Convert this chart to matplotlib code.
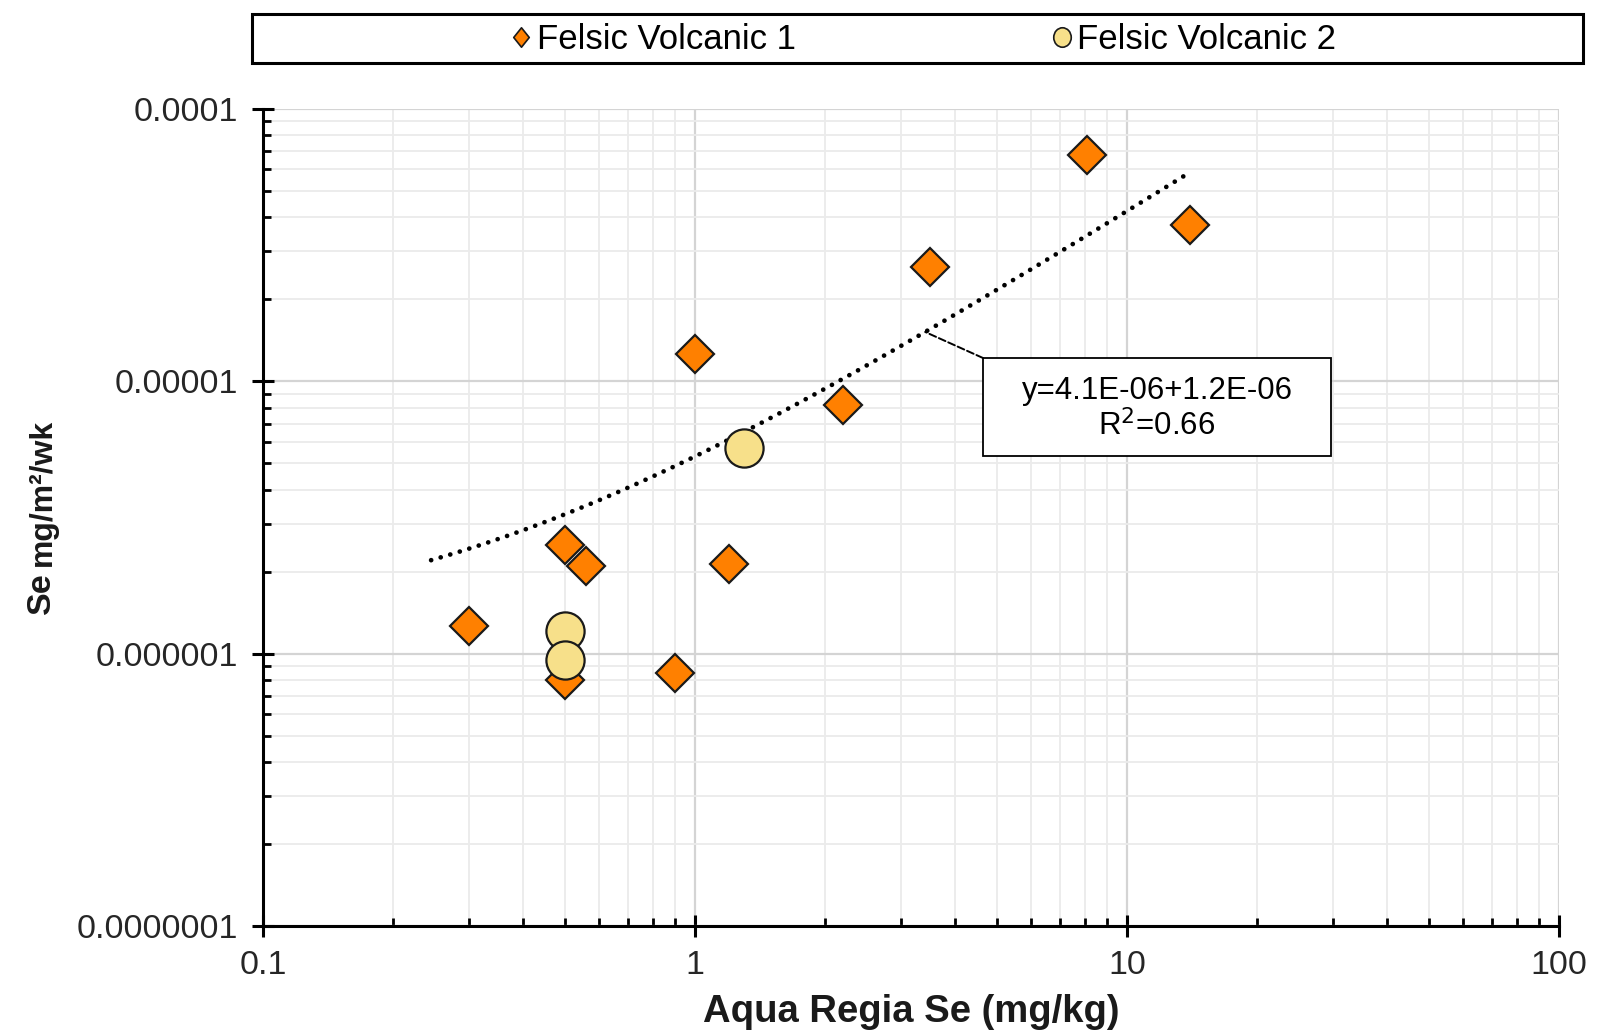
import matplotlib
matplotlib.use("Agg")
import matplotlib.pyplot as plt
import numpy as np
from matplotlib.path import Path
from matplotlib.lines import Line2D
from matplotlib.patches import Rectangle
from matplotlib.ticker import FixedLocator, FixedFormatter, LogLocator, NullFormatter

plt.rcParams['font.family'] = ['Liberation Sans', 'DejaVu Sans']

# ---------------- data ----------------
fv1_x = [0.3, 0.5, 0.56, 0.5, 0.9, 1.0, 1.2, 2.2, 3.5, 8.1, 14.0]
fv1_y = [1.26e-6, 2.5e-6, 2.1e-6, 8.0e-7, 8.5e-7, 1.26e-5, 2.14e-6, 8.2e-6, 2.64e-5, 6.8e-5, 3.74e-5]

fv2_x = [0.5, 0.5, 1.3]
fv2_y = [1.21e-6, 9.5e-7, 5.7e-6]

series_names = ["Felsic Volcanic 1", "Felsic Volcanic 2"]

trend_slope = 4.1e-6
trend_intercept = 1.2e-6
trend_x_range = [0.245, 14.0]
trend_label_x = 3.41
trend_text = ["y=4.1E-06+1.2E-06", "R$^2$=0.66"]

x_ticks = [0.1, 1, 10, 100]
x_tick_labels = ["0.1", "1", "10", "100"]
y_ticks = [1e-7, 1e-6, 1e-5, 1e-4]
y_tick_labels = ["0.0000001", "0.000001", "0.00001", "0.0001"]

x_label = "Aqua Regia Se (mg/kg)"
y_label_main = "Se"
y_label_unit = "mg/m²/wk"

# ---------------- figure ----------------
W, H = 1600, 1036
fig = plt.figure(figsize=(W / 100, H / 100), dpi=100)

def fx(px):
    return px / W

def fy(py):
    return 1 - py / H

ax = fig.add_axes([fx(263), fy(926), fx(1559) - fx(263), fy(109) - fy(926)])
ax.set_xscale('log')
ax.set_yscale('log')
ax.set_xlim(0.1, 100)
ax.set_ylim(1e-7, 1e-4)

# grid
ax.set_axisbelow(True)
ax.grid(which='major', color='#d4d4d4', linewidth=1.6)
ax.grid(which='minor', color='#ebebeb', linewidth=1.3)

# spines
for s in ['top', 'right']:
    ax.spines[s].set_visible(False)
for s in ['left', 'bottom']:
    ax.spines[s].set_linewidth(2.2)
    ax.spines[s].set_color('black')

ax.xaxis.set_major_locator(FixedLocator(x_ticks))
ax.xaxis.set_major_formatter(FixedFormatter(x_tick_labels))
ax.yaxis.set_major_locator(FixedLocator(y_ticks))
ax.yaxis.set_major_formatter(FixedFormatter(y_tick_labels))
ax.xaxis.set_minor_locator(LogLocator(base=10, subs=np.arange(2, 10)))
ax.yaxis.set_minor_locator(LogLocator(base=10, subs=np.arange(2, 10)))
ax.xaxis.set_minor_formatter(NullFormatter())
ax.yaxis.set_minor_formatter(NullFormatter())

ax.tick_params(which='major', direction='inout', length=16, width=2.2, color='black',
               labelsize=24.5, labelcolor='#262626')
ax.tick_params(axis='y', which='major', pad=10)
ax.tick_params(axis='x', which='major', pad=9)
ax.tick_params(which='minor', direction='in', length=6, width=2.0, color='black')

# trendline
tx = np.geomspace(trend_x_range[0], trend_x_range[1], 200)
ty = trend_slope * tx + trend_intercept
ax.plot(tx, ty, color='black', linewidth=3.4, linestyle=(0, (0.01, 2.1)),
        dash_capstyle='round', zorder=2)

# points
ax.plot(fv1_x, fv1_y, linestyle='none', marker='D', markersize=19,
        markerfacecolor='#FF8000', markeredgecolor='#1a1a1a', markeredgewidth=1.6, zorder=3)
ax.plot(fv2_x, fv2_y, linestyle='none', marker='o', markersize=27.5,
        markerfacecolor='#F7E08A', markeredgecolor='#1a1a1a', markeredgewidth=1.6, zorder=4)

# axis labels
ax.set_xlabel(x_label, fontsize=27.5, fontweight='bold', color='#1a1a1a')
ax.xaxis.set_label_coords(0.5, -0.083)

fig.text(fx(50), fy(614), y_label_main, rotation=90, rotation_mode='anchor',
         ha='left', va='baseline', fontsize=24.5, fontweight='bold', color='#1a1a1a')
fig.text(fx(51), fy(566), y_label_unit, rotation=90, rotation_mode='anchor',
         ha='left', va='baseline', fontsize=23, fontweight='bold', color='#1a1a1a')

# trend annotation box
bx0, by0, bx1, by1 = 983, 358, 1331, 456
fig.patches.append(Rectangle((fx(bx0), fy(by1)), fx(bx1) - fx(bx0), fy(by0) - fy(by1),
                             transform=fig.transFigure, facecolor='white',
                             edgecolor='black', linewidth=1.3, zorder=5))
fig.text(fx((bx0 + bx1) / 2), fy(391), trend_text[0], ha='center', va='center',
         fontsize=22.5, color='black', zorder=6)
fig.text(fx((bx0 + bx1) / 2), fy(426), trend_text[1], ha='center', va='center',
         fontsize=22.5, color='black', zorder=6)
ax.annotate('', xy=(trend_label_x, trend_slope * trend_label_x + trend_intercept),
            xycoords='data', xytext=(fx(bx0), fy(by0)), textcoords='figure fraction',
            arrowprops=dict(arrowstyle='-', linestyle='--', color='black', linewidth=1.4,
                            shrinkA=0, shrinkB=0))

# legend
lx0, ly0, lx1, ly1 = 252, 14, 1583, 63
fig.patches.append(Rectangle((fx(lx0), fy(ly1)), fx(lx1) - fx(lx0), fy(ly0) - fy(ly1),
                             transform=fig.transFigure, facecolor='white',
                             edgecolor='black', linewidth=2.2, zorder=1))
diamond = Path([(0, 1), (0.8, 0), (0, -1), (-0.8, 0), (0, 1)],
               [Path.MOVETO, Path.LINETO, Path.LINETO, Path.LINETO, Path.CLOSEPOLY])
circ = Path.unit_circle()
ellipse = Path(circ.vertices * np.array([0.9, 1.0]), circ.codes)
handles = [
    Line2D([], [], linestyle='none', marker=diamond, markersize=14,
           markerfacecolor='#FF8000', markeredgecolor='#1a1a1a', markeredgewidth=1.2),
    Line2D([], [], linestyle='none', marker=ellipse, markersize=14,
           markerfacecolor='#F7E08A', markeredgecolor='#1a1a1a', markeredgewidth=1.2),
]
leg = fig.legend(handles, series_names, loc='center',
                 bbox_to_anchor=(fx((lx0 + lx1) / 2 + 6), fy((ly0 + ly1) / 2 + 1)),
                 ncol=2, frameon=False, fontsize=25, handlelength=0.6,
                 handletextpad=0.15, columnspacing=7.35, borderpad=0)

fig.savefig('out.png', dpi=100)
